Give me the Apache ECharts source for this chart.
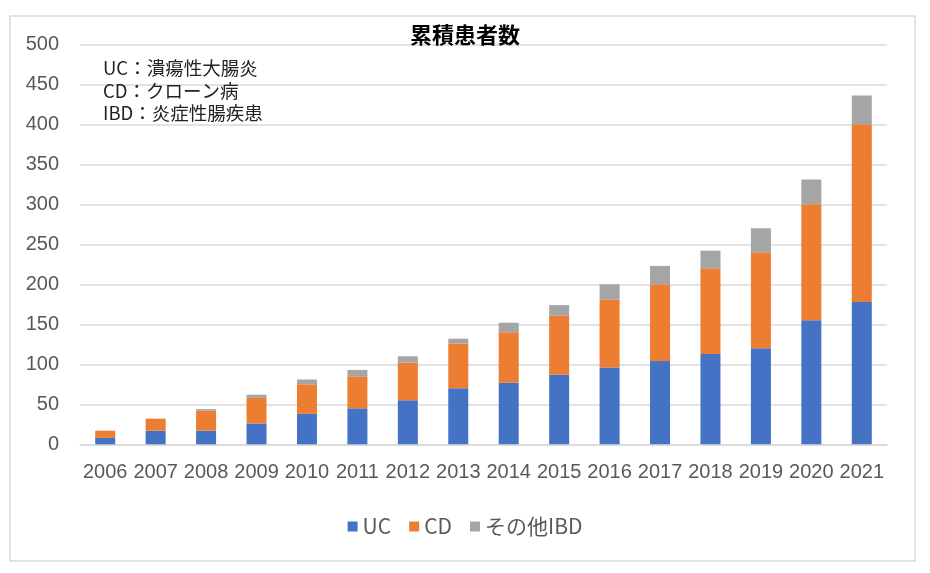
<!DOCTYPE html>
<html>
<head>
<meta charset="utf-8">
<script src="https://cdn.jsdelivr.net/npm/echarts@6/dist/echarts.min.js"></script>
<style>
html,body{margin:0;padding:0;background:#fff;}
#chart{width:930px;height:573px;}
</style>
</head>
<body>
<div id="chart"></div>
<script>
const years = ['2006','2007','2008','2009','2010','2011','2012','2013','2014','2015','2016','2017','2018','2019','2020','2021'];
const ucValues = [8, 17, 17, 26, 38, 45, 55, 70, 77, 87, 96, 104, 113, 120, 155, 178];
const cdValues = [9, 15, 25, 32, 37, 40, 47, 56, 63, 74, 85, 96, 107, 120, 145, 222];
const otherValues = [0, 0, 2, 4, 6, 8, 8, 6, 12, 13, 19, 23, 22, 30, 31, 36];
const seriesNames = ['UC', 'CD', 'その他IBD'];
const titleText = '累積患者数';
const noteLines = ['UC：潰瘍性大腸炎', 'CD：クローン病', 'IBD：炎症性腸疾患'];

const chart = echarts.init(document.getElementById('chart'), null, {renderer: 'canvas'});
const latin = '"Liberation Sans", "Noto Sans CJK JP", sans-serif';
const cjk = '"Noto Sans CJK JP", "Liberation Sans", sans-serif';

const option = {
  backgroundColor: '#ffffff',
  animation: false,
  title: {
    text: titleText,
    left: 460, textAlign: 'center',
    top: 19,
    textStyle: {fontFamily: cjk, fontSize: 22, fontWeight: 'bold', color: '#000000'}
  },
  graphic: [
    {type: 'rect', shape: {x: 10, y: 16, width: 905, height: 545}, style: {fill: 'none', stroke: '#D9D9D9', lineWidth: 1.5}, z: -1},
    ...noteLines.map((t, i) => ({
      type: 'text', left: 103, top: 59 + i * 22.5, z: 10,
      style: {text: t, fontFamily: cjk, fontSize: 18.5, fill: '#222222'}
    }))
  ],
  legend: {
    data: seriesNames,
    left: 'center', top: 511,
    icon: 'rect', itemWidth: 10, itemHeight: 10, itemGap: 18,
    textStyle: {fontFamily: cjk, fontSize: 21, color: '#595959'}
  },
  grid: {left: 80, right: 43, top: 44.3, bottom: 128.7, containLabel: false},
  xAxis: {
    type: 'category', data: years,
    axisLine: {lineStyle: {color: '#D9D9D9', width: 1.5}},
    axisTick: {show: false},
    axisLabel: {fontFamily: latin, fontSize: 20, color: '#595959', margin: 18, interval: 0}
  },
  yAxis: {
    type: 'value', min: 0, max: 500, interval: 50,
    axisLine: {show: false}, axisTick: {show: false},
    splitLine: {lineStyle: {color: '#D9D9D9', width: 1.5}},
    axisLabel: {fontFamily: latin, fontSize: 20, color: '#595959', margin: 21}
  },
  series: [
    {name: seriesNames[0], type: 'bar', stack: 'total', data: ucValues, barWidth: 20, itemStyle: {color: '#4472C4'}},
    {name: seriesNames[1], type: 'bar', stack: 'total', data: cdValues, barWidth: 20, itemStyle: {color: '#ED7D31'}},
    {name: seriesNames[2], type: 'bar', stack: 'total', data: otherValues, barWidth: 20, itemStyle: {color: '#A5A5A5'}}
  ]
};
chart.setOption(option);
</script>
</body>
</html>
